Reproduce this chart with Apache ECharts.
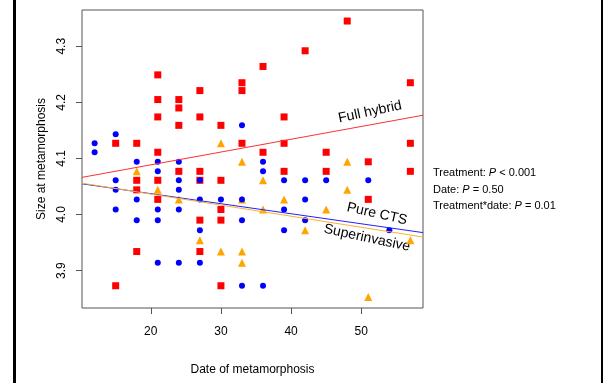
<!DOCTYPE html>
<html>
<head>
<meta charset="utf-8">
<script src="https://cdn.jsdelivr.net/npm/echarts@6/dist/echarts.min.js"></script>
<style>
  html, body { margin: 0; padding: 0; background: #fff; }
  #chart { width: 603px; height: 383px; }
</style>
</head>
<body>
<div id="chart"></div>
<script>
// Size at metamorphosis against date of metamorphosis, per treatment: [date, size]
const fullHybrid = [
  [15, 4.127], [15, 3.873],
  [18, 4.127], [18, 4.061], [18, 4.044], [18, 3.934],
  [21, 4.249], [21, 4.205], [21, 4.174], [21, 4.111], [21, 4.061], [21, 4.027],
  [24, 4.205], [24, 4.190], [24, 4.159], [24, 4.077],
  [27, 4.221], [27, 4.174], [27, 4.077], [27, 4.061], [27, 3.990], [27, 3.934],
  [30, 4.159], [30, 4.061], [30, 4.009], [30, 3.990], [30, 3.873],
  [33, 4.235], [33, 4.221], [33, 4.127],
  [36, 4.264], [36, 4.111],
  [39, 4.174], [39, 4.127], [39, 4.077],
  [42, 4.292],
  [45, 4.111], [45, 4.077],
  [48, 4.345],
  [51, 4.094], [51, 4.027],
  [57, 4.235], [57, 4.127], [57, 4.077]
];
const pureCTS = [
  [12, 4.127], [12, 4.111],
  [15, 4.143], [15, 4.061], [15, 4.044], [15, 4.009],
  [18, 4.094], [18, 4.027], [18, 3.990],
  [21, 4.094], [21, 4.077], [21, 4.009], [21, 3.990], [21, 3.914],
  [24, 4.094], [24, 4.061], [24, 4.044], [24, 4.009], [24, 3.914],
  [27, 4.061], [27, 4.027], [27, 3.972], [27, 3.914],
  [30, 4.027],
  [33, 4.159], [33, 4.027], [33, 3.990], [33, 3.873],
  [36, 4.094], [36, 4.077], [36, 3.873],
  [39, 4.061], [39, 4.009], [39, 3.972],
  [42, 4.061], [42, 4.027], [42, 3.990],
  [45, 4.061],
  [51, 4.061],
  [54, 3.972]
];
const superinvasive = [
  [18, 4.077],
  [21, 4.044],
  [24, 4.027],
  [27, 3.954],
  [30, 4.127], [30, 3.934],
  [33, 4.094], [33, 4.027], [33, 3.934], [33, 3.914],
  [36, 4.061], [36, 4.009],
  [39, 4.027],
  [42, 3.972],
  [45, 4.009],
  [48, 4.094], [48, 4.044],
  [51, 3.853],
  [57, 3.954]
];

// Fitted lines per treatment: size = intercept + slope * date
const fitNames = ['Full hybrid', 'Pure CTS', 'Superinvasive'];
const fitIntercepts = [4.043, 4.073, 4.076];
const fitSlopes = [0.00228, -0.00179, -0.001975];

const xTicks = [20, 30, 40, 50];
const yTicks = [3.9, 4.0, 4.1, 4.2, 4.3];

const statLines = [
  ['Treatment: ', 'P', ' < 0.001'],
  ['Date: ', 'P', ' = 0.50'],
  ['Treatment*date: ', 'P', ' = 0.01']
];

// Axis ranges padded by 4% of the data span on each side
const all = fullHybrid.concat(pureCTS, superinvasive);
function padded(vals) {
  const lo = Math.min(...vals), hi = Math.max(...vals);
  const pad = (hi - lo) * 0.04;
  return [lo - pad, hi + pad];
}
const [xMin, xMax] = padded(all.map(d => d[0]));
const [yMin, yMax] = padded(all.map(d => d[1]));

const FONT = 'Liberation Sans, Arial, Helvetica, sans-serif';
const fitColors = ['#ff3030', '#2020ff', '#ffb030'];

const fitSeries = fitNames.map((name, i) => ({
  name: name + ' fit',
  type: 'line',
  data: [xMin, xMax].map(x => [x, fitIntercepts[i] + fitSlopes[i] * x]),
  symbol: 'none',
  lineStyle: { color: fitColors[i], width: 1 },
  silent: true,
  z: 5
}));

const chart = echarts.init(document.getElementById('chart'), null, { renderer: 'canvas' });

chart.setOption({
  animation: false,
  backgroundColor: '#fff',
  grid: {
    left: 82, top: 10, right: 180, bottom: 75,
    show: true, borderColor: '#555', borderWidth: 1, backgroundColor: 'transparent'
  },
  xAxis: {
    type: 'value',
    min: xMin, max: xMax,
    name: 'Date of metamorphosis',
    nameLocation: 'middle',
    nameGap: 56,
    nameTextStyle: { fontFamily: FONT, fontSize: 12, color: '#000' },
    axisLine: { show: false },
    splitLine: { show: false },
    axisTick: { show: true, length: 6, customValues: xTicks, lineStyle: { color: '#555' } },
    axisLabel: {
      customValues: xTicks, margin: 18,
      fontFamily: FONT, fontSize: 12, color: '#000'
    }
  },
  yAxis: {
    type: 'value',
    min: yMin, max: yMax,
    name: 'Size at metamorphosis',
    nameLocation: 'middle',
    nameRotate: 90,
    nameGap: 34,
    nameTextStyle: { fontFamily: FONT, fontSize: 12, color: '#000' },
    axisLine: { show: false },
    splitLine: { show: false },
    axisTick: { show: true, length: 6, customValues: yTicks, lineStyle: { color: '#555' } },
    axisLabel: {
      customValues: yTicks, rotate: 90, margin: 14,
      formatter: v => v.toFixed(1),
      fontFamily: FONT, fontSize: 12, color: '#000'
    }
  },
  series: [
    {
      name: 'Full hybrid', type: 'scatter', data: fullHybrid,
      symbol: 'rect', symbolSize: 7,
      itemStyle: { color: '#ff0000', opacity: 1 }, z: 2
    },
    {
      name: 'Superinvasive', type: 'scatter', data: superinvasive,
      symbol: 'triangle', symbolSize: 8,
      itemStyle: { color: '#ffa500', opacity: 1 }, z: 3
    },
    {
      name: 'Pure CTS', type: 'scatter', data: pureCTS,
      symbol: 'circle', symbolSize: 6,
      itemStyle: { color: '#0000ff', opacity: 1 }, z: 4
    }
  ].concat(fitSeries),
  graphic: [
    // outer frame edges
    { type: 'rect', shape: { x: 13, y: 0, width: 3, height: 383 }, style: { fill: '#000' } },
    { type: 'rect', shape: { x: 601, y: 0, width: 2, height: 383 }, style: { fill: '#000' } },
    // fitted line labels
    {
      type: 'text', x: 370, y: 112, rotation: 0.21,
      style: { text: fitNames[0], font: '14px ' + FONT, fill: '#000', align: 'center', verticalAlign: 'middle' }
    },
    {
      type: 'text', x: 377, y: 214, rotation: -0.22,
      style: { text: fitNames[1], font: '14px ' + FONT, fill: '#000', align: 'center', verticalAlign: 'middle' }
    },
    {
      type: 'text', x: 367, y: 238, rotation: -0.21,
      style: { text: fitNames[2], font: '14px ' + FONT, fill: '#000', align: 'center', verticalAlign: 'middle' }
    }
  ].concat(statLines.map((parts, i) => ({
    type: 'text', x: 433, y: 173 + i * 16.7,
    style: {
      text: '{n|' + parts[0] + '}{i|' + parts[1] + '}{n|' + parts[2] + '}',
      align: 'left', verticalAlign: 'middle',
      rich: {
        n: { fontFamily: FONT, fontSize: 11, fill: '#000', color: '#000' },
        i: { fontFamily: FONT, fontSize: 11, fontStyle: 'italic', fill: '#000', color: '#000' }
      }
    }
  })))
});
</script>
</body>
</html>
